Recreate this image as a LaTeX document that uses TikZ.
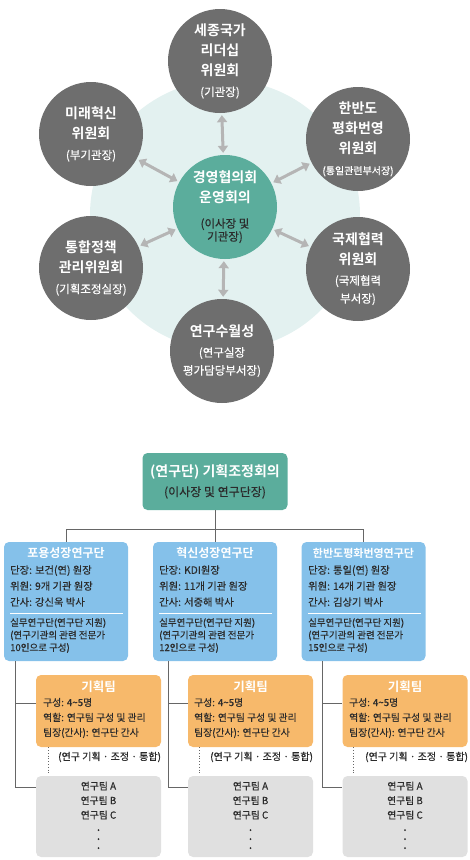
\documentclass[tikz,border=0pt]{standalone}
\usepackage{fontspec}
\setmainfont{Noto Sans CJK KR}[BoldFont={Noto Sans CJK KR Bold}, UprightFeatures={FakeBold=0.4}]
\usepackage{xcolor}
\usepackage{tikz}
\usetikzlibrary{arrows.meta}

\definecolor{hubteal}{HTML}{5BAD9C}
\definecolor{bgmint}{HTML}{E3F1F0}
\definecolor{cmtgray}{HTML}{6E6E6E}
\definecolor{arrowgray}{HTML}{B5B5B5}
\definecolor{unitblue}{HTML}{85C1EA}
\definecolor{planorange}{HTML}{F7B96B}
\definecolor{teamgray}{HTML}{E0E0E0}
\definecolor{linegray}{HTML}{666666}
\definecolor{textdark}{HTML}{2B2B2B}

\newcommand{\subfont}{\mdseries\fontsize{11.5}{14}\selectfont}

\begin{document}
\begin{tikzpicture}[x=1pt, y=-1pt,
  committee/.style={circle, fill=cmtgray, text=white, minimum size=104pt, inner sep=0pt, align=center, font=\bfseries\fontsize{14}{20}\selectfont},
  hub/.style={committee, fill=hubteal},
  twoway/.style={<->, >={Triangle[length=7pt,width=10pt]}, line width=3pt, draw=arrowgray, shorten <=2pt, shorten >=2pt},
  board/.style={rectangle, rounded corners=5pt, fill=hubteal, minimum width=145pt, minimum height=57pt, align=center, text=white, font=\bfseries\fontsize{14}{20}\selectfont},
  unit/.style={rectangle, rounded corners=5pt, fill=unitblue, minimum width=124pt, minimum height=119pt},
  unithead/.style={text=white, font=\bfseries\fontsize{12}{14}\selectfont},
  unitbody/.style={anchor=west, align=left, inner sep=0pt, text=textdark, font=\fontsize{10.3}{16}\selectfont},
  unitnote/.style={anchor=west, align=left, inner sep=0pt, text=textdark, font=\fontsize{9.5}{12.5}\selectfont},
  plan/.style={rectangle, rounded corners=5pt, fill=planorange, minimum width=125pt, minimum height=72pt},
  planhead/.style={text=white, font=\bfseries\fontsize{12.5}{14}\selectfont},
  planbody/.style={anchor=west, align=left, inner sep=0pt, text=textdark, font=\fontsize{9.8}{15}\selectfont},
  teams/.style={rectangle, rounded corners=5pt, fill=teamgray, minimum width=125pt, minimum height=81pt},
  teamlist/.style={align=center, inner sep=0pt, text=textdark, font=\fontsize{9.8}{14.5}\selectfont},
  planrole/.style={anchor=west, inner sep=0pt, text=textdark, font=\fontsize{10}{12}\selectfont},
  link/.style={draw=linegray, line width=0.8pt}]
\useasboundingbox (0,0) rectangle (470,860);

% committees around the management council
\node[circle, fill=bgmint, minimum size=270pt, inner sep=0pt] (halo) at (225,215) {};

\node[committee] (sejong) at (220,61) {세종국가\\리더십\\위원회\\[1pt]\subfont (기관장)};
\node[committee] (future) at (91,134) {미래혁신\\위원회\\[1pt]\subfont (부기관장)};
\node[committee] (korea) at (358,139) {한반도\\평화번영\\위원회\\[1pt]\mdseries\fontsize{10}{12}\selectfont (통일관련부서장)};
\node[committee] (policy) at (91,268) {통합정책\\관리위원회\\[1pt]\subfont (기획조정실장)};
\node[committee] (global) at (358,269) {국제협력\\위원회\\\subfont (국제협력\\[-2pt]\subfont 부서장)};
\node[committee] (excel) at (222,351) {연구수월성\\\subfont (연구실장\\[-2pt]\subfont 평가담당부서장)};
\node[hub] (hub) at (225,207) {경영협의회\\운영회의\\[5pt]\subfont\color{textdark}(이사장 및\\[-7pt]\subfont\color{textdark}기관장)};

\draw[twoway] (hub) -- (sejong);
\draw[twoway] (hub) -- (future);
\draw[twoway] (hub) -- (korea);
\draw[twoway] (hub) -- (policy);
\draw[twoway] (hub) -- (global);
\draw[twoway] (hub) -- (excel);

% research group coordination
\node[board] (board) at (215,481.5) {(연구단) 기획조정회의\\\mdseries\color{textdark}\fontsize{12}{14}\selectfont (이사장 및 연구단장)};
\coordinate (bus) at (0,529);

\node[unit] (inclusive) at (66,601.5) {};
\node[unit] (innovation) at (215,601.5) {};
\node[unit] (peace) at (363.5,601.5) {};

\draw[link] (board.south) -- (innovation.north);
\draw[link] (inclusive.north) |- (bus -| peace.north) -- (peace.north);

\node[unithead] (inclusivehead) at (66,553) {포용성장연구단};
\node[unitbody] (inclusivebody) at (10,586) {단장: 보건(연) 원장\\위원: 9개 기관 원장\\간사: 강신욱 박사};
\draw[white, line width=0.8pt] (10,613) -- (123,613);
\node[unitnote] (inclusivenote) at (10,635.5) {실무연구단(연구단 지원)\\(연구기관의 관련 전문가\\10인으로 구성)};

\node[unithead] (innovationhead) at (215,553) {혁신성장연구단};
\node[unitbody] (innovationbody) at (159,586) {단장: KDI원장\\위원: 11개 기관 원장\\간사: 서중해 박사};
\draw[white, line width=0.8pt] (159,613) -- (272,613);
\node[unitnote] (innovationnote) at (159,635.5) {실무연구단(연구단 지원)\\(연구기관의 관련 전문가\\12인으로 구성)};

\node[unithead, font=\bfseries\fontsize{11}{14}\selectfont] (peacehead) at (363.5,553) {한반도평화번영연구단};
\node[unitbody] (peacebody) at (308,586) {단장: 통일(연) 원장\\위원: 14개 기관 원장\\간사: 김상기 박사};
\draw[white, line width=0.8pt] (308,613) -- (421,613);
\node[unitnote] (peacenote) at (308,635.5) {실무연구단(연구단 지원)\\(연구기관의 관련 전문가\\15인으로 구성)};

% planning teams and research teams
\node[plan] (inclusiveplan) at (98.5,711) {};
\node[plan] (innovationplan) at (250.5,711) {};
\node[plan] (peaceplan) at (405,711) {};
\node[teams] (inclusiveteams) at (98.5,816.5) {};
\node[teams] (innovationteams) at (250.5,816.5) {};
\node[teams] (peaceteams) at (405,816.5) {};

\node[planhead] at (98.5,687) {기획팀};
\node[planbody] at (43,718) {구성: 4\textasciitilde5명\\역할: 연구팀 구성 및 관리\\팀장(간사): 연구단 간사};
\node[planhead] at (250.5,687) {기획팀};
\node[planbody] at (194,718) {구성: 4\textasciitilde5명\\역할: 연구팀 구성 및 관리\\팀장(간사): 연구단 간사};
\node[planhead] at (405,687) {기획팀};
\node[planbody] at (349,718) {구성: 4\textasciitilde5명\\역할: 연구팀 구성 및 관리\\팀장(간사): 연구단 간사};

\node[teamlist] (inclusivelist) at (98.5,800.5) {연구팀 A\\연구팀 B\\연구팀 C};
\fill[textdark] (98.5,830) circle (1pt) (98.5,839) circle (1pt) (98.5,848) circle (1pt);
\node[teamlist] (innovationlist) at (250.5,800.5) {연구팀 A\\연구팀 B\\연구팀 C};
\fill[textdark] (250.5,830) circle (1pt) (250.5,839) circle (1pt) (250.5,848) circle (1pt);
\node[teamlist] (peacelist) at (405,800.5) {연구팀 A\\연구팀 B\\연구팀 C};
\fill[textdark] (405,830) circle (1pt) (405,839) circle (1pt) (405,848) circle (1pt);

\coordinate (inclusivestem) at ([xshift=12pt]inclusive.south west);
\coordinate (inclusiveplanin) at ([yshift=8pt]inclusiveplan.west);
\draw[link] (inclusivestem) |- ([yshift=29.5pt]inclusiveteams.west);
\draw[link] (inclusivestem |- inclusiveplanin) -- (inclusiveplanin);
\draw[linegray, dotted, line width=0.8pt] ([xshift=13pt]inclusiveplan.south west) -- ([xshift=13pt, yshift=2pt]inclusiveteams.north west);
\node[planrole] at (58,757) {(연구 기획 · 조정 · 통합)};

\coordinate (innovationstem) at ([xshift=16pt]innovation.south west);
\coordinate (innovationplanin) at ([yshift=8pt]innovationplan.west);
\draw[link] (innovationstem) |- ([yshift=29.5pt]innovationteams.west);
\draw[link] (innovationstem |- innovationplanin) -- (innovationplanin);
\draw[linegray, dotted, line width=0.8pt] ([xshift=12pt]innovationplan.south west) -- ([xshift=12pt, yshift=2pt]innovationteams.north west);
\node[planrole] at (210,757) {(연구 기획 · 조정 · 통합)};

\coordinate (peacestem) at ([xshift=21.5pt]peace.south west);
\coordinate (peaceplanin) at ([yshift=8pt]peaceplan.west);
\draw[link] (peacestem) |- ([yshift=29.5pt]peaceteams.west);
\draw[link] (peacestem |- peaceplanin) -- (peaceplanin);
\draw[linegray, dotted, line width=0.8pt] ([xshift=11pt]peaceplan.south west) -- ([xshift=11pt, yshift=2pt]peaceteams.north west);
\node[planrole] at (365,757) {(연구 기획 · 조정 · 통합)};
\end{tikzpicture}
\end{document}
